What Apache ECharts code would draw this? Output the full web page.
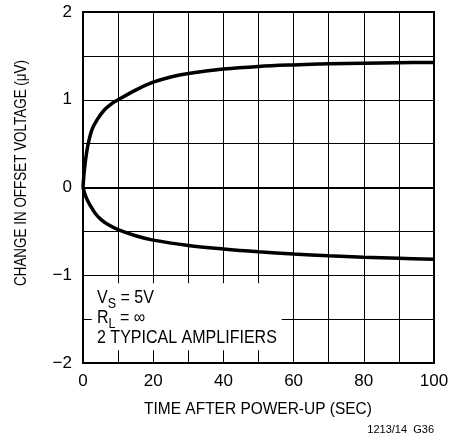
<!DOCTYPE html>
<html>
<head>
<meta charset="utf-8">
<script src="https://cdn.jsdelivr.net/npm/echarts@6/dist/echarts.min.js"></script>
<style>
  html, body { margin: 0; padding: 0; background: #fff; }
  #chart { width: 463px; height: 440px; }
</style>
</head>
<body>
<div id="chart"></div>
<script>
    // time after power-up (sec) and offset change (uV)
    var upperTime = [0, 0.3, 0.6, 1, 1.5, 2.5, 4, 6, 8, 10, 15, 20, 25, 30, 40, 50, 60, 70, 80, 90, 100];
    var upperVolt = [0, 0.16, 0.27, 0.39, 0.5, 0.655, 0.77, 0.88, 0.95, 1.0, 1.11, 1.2, 1.26, 1.3, 1.35, 1.38, 1.397, 1.409, 1.417, 1.422, 1.425];
    var lowerTime = [0, 0.5, 1.2, 2, 3.4, 5, 7, 10, 15, 20, 30, 40, 50, 60, 70, 80, 90, 100];
    var lowerVolt = [0, -0.07, -0.14, -0.2, -0.29, -0.36, -0.42, -0.48, -0.55, -0.6, -0.66, -0.7, -0.732, -0.758, -0.778, -0.795, -0.807, -0.817];

    var xTicks = ['0', '20', '40', '60', '80', '100'];
    var yTicks = ['\u22122', '\u22121', '0', '1', '2'];

    // white note box that blanks out the grid in the lower left
    var noteBox = [[2.5, -1.09], [56.6, -1.855]];

    var font = '"Liberation Sans Narrow", "Liberation Sans", Arial, sans-serif';

    function pairs(xs, ys) {
        var out = [];
        xs.forEach(function (x, i) {
            out.push([x, ys[i]]);
        });
        return out;
    }

    var myChart = echarts.init(document.getElementById('chart'));

    var option = {
        animation: false,
        grid: {
            left: 83,
            right: 29,
            top: 12,
            bottom: 77,
            show: true,
            borderColor: '#000',
            borderWidth: 2
        },
        xAxis: {
            type: 'value',
            min: 0,
            max: 100,
            interval: 10,
            axisLine: {lineStyle: {color: '#000', width: 2}},
            axisTick: {show: false},
            splitLine: {lineStyle: {color: '#000', width: 1}},
            axisLabel: {
                color: '#000',
                fontFamily: font,
                fontSize: 17,
                margin: 10,
                formatter: function (v) {
                    return v % 20 === 0 ? xTicks[v / 20] : '';
                }
            }
        },
        yAxis: {
            type: 'value',
            min: -2,
            max: 2,
            interval: 0.5,
            axisLine: {lineStyle: {color: '#000', width: 2}},
            axisTick: {show: false},
            splitLine: {lineStyle: {color: '#000', width: 1}},
            axisLabel: {
                color: '#000',
                fontFamily: font,
                fontSize: 17,
                margin: 11,
                formatter: function (v) {
                    return Number.isInteger(v) ? yTicks[v + 2] : '';
                }
            }
        },
        series: [
            {
                type: 'line',
                data: pairs(upperTime, upperVolt),
                smooth: 0.35,
                showSymbol: false,
                lineStyle: {color: '#000', width: 3.5},
                markArea: {
                    silent: true,
                    itemStyle: {color: '#fff', opacity: 1},
                    data: [[{coord: noteBox[0]}, {coord: noteBox[1]}]]
                }
            },
            {
                type: 'line',
                data: pairs(lowerTime, lowerVolt),
                smooth: 0.35,
                showSymbol: false,
                lineStyle: {color: '#000', width: 3.5}
            }
        ],
        graphic: [
            {
                // axis titles, squeezed to look like the condensed face of the original
                type: 'text',
                x: 258,
                y: 409,
                scaleX: 0.91,
                style: {
                    text: 'TIME AFTER POWER-UP (SEC)',
                    fill: '#000',
                    font: '17px ' + font,
                    textAlign: 'center',
                    textVerticalAlign: 'middle'
                }
            },
            {
                type: 'text',
                x: 22,
                y: 173,
                rotation: Math.PI / 2,
                scaleX: 0.84,
                style: {
                    text: 'CHANGE IN OFFSET VOLTAGE (\u03bcV)',
                    fill: '#000',
                    font: '16px ' + font,
                    textAlign: 'center',
                    textVerticalAlign: 'middle'
                }
            },
            {
                type: 'text',
                x: 97,
                y: 287,
                scaleX: 0.89,
                z: 10,
                style: {
                    text: '{a|V}{s|S}{a| = 5V}\n{a|R}{s|L}{a| = \u221e}\n{a|2 TYPICAL AMPLIFIERS}',
                    fill: '#000',
                    font: '18px ' + font,
                    lineHeight: 20,
                    rich: {
                        a: {fontFamily: font, fontSize: 18, lineHeight: 20, verticalAlign: 'bottom'},
                        s: {fontFamily: font, fontSize: 14, lineHeight: 20, verticalAlign: 'bottom', padding: [0, 0, -4, 0]}
                    }
                }
            },
            {
                type: 'text',
                right: 29,
                top: 424,
                style: {
                    text: '1213/14  G36',
                    fill: '#000',
                    font: '11px ' + font
                }
            }
        ]
    };

    myChart.setOption(option);
</script>
</body>
</html>
